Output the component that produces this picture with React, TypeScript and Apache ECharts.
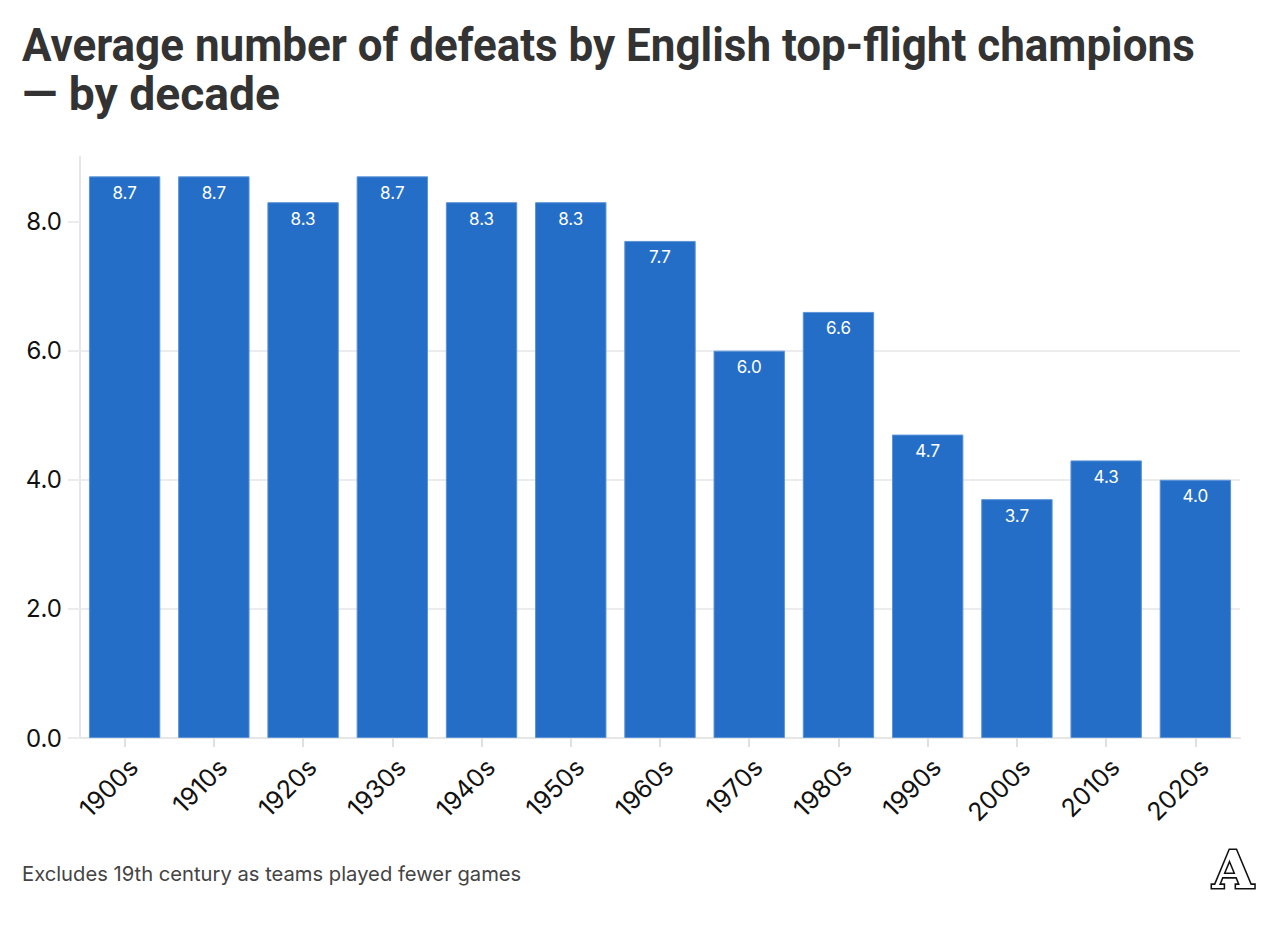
import React, { useEffect, useRef } from "react";
import * as echarts from "echarts";

const decades = ["1900s", "1910s", "1920s", "1930s", "1940s", "1950s", "1960s", "1970s", "1980s", "1990s", "2000s", "2010s", "2020s"];
const avgDefeats = [8.7, 8.7, 8.3, 8.7, 8.3, 8.3, 7.7, 6.0, 6.6, 4.7, 3.7, 4.3, 4.0];
const yTickValues = [0, 2, 4, 6, 8];
const titleLines = ["Average number of defeats by English top-flight champions", "— by decade"];
const footnote = "Excludes 19th century as teams played fewer games";

const TITLE_FONT = "Roboto, 'Liberation Sans', sans-serif";
const BODY_FONT = "Inter, Roboto, 'Noto Sans', sans-serif";

export default function App() {
  const ref = useRef<HTMLDivElement>(null);
  useEffect(() => {
    if (!ref.current) return;
    const titleFont = `bold 46px ${TITLE_FONT}`;
    let scale1 = 0.82;
    let scale2 = 0.86;
    try {
      const ctx = document.createElement("canvas").getContext("2d");
      if (ctx) {
        ctx.font = titleFont;
        const w1 = ctx.measureText(titleLines[0]).width;
        const w2 = ctx.measureText(titleLines[1]).width;
        if (w1 > 0) scale1 = 1173 / w1;
        if (w2 > 0) scale2 = 258 / w2;
      }
    } catch (e) {}
    const chart = echarts.init(ref.current, undefined, { renderer: "svg" });
    chart.setOption({
      animation: false,
      backgroundColor: "#ffffff",
      grid: { left: 80, right: 40, top: 157, bottom: 188, containLabel: false },
      graphic: [
        {
          type: "text",
          x: 22,
          y: 22,
          scaleX: scale1,
          scaleY: 1,
          style: { text: titleLines[0], font: titleFont, fill: "#333333" },
        },
        {
          type: "text",
          x: 22,
          y: 71,
          scaleX: scale2,
          scaleY: 1,
          style: { text: titleLines[1], font: titleFont, fill: "#333333" },
        },
        {
          type: "text",
          left: 22,
          top: 863,
          style: { text: footnote, font: `20.2px ${BODY_FONT}`, fill: "#444444" },
        },
        {
          type: "text",
          left: 1211,
          top: 841,
          style: {
            text: "A",
            font: `bold 53px 'DejaVu Serif', 'Liberation Serif', serif`,
            fill: "#ffffff",
            stroke: "#111111",
            lineWidth: 3.2,
          },
        },
      ],
      xAxis: {
        type: "category",
        data: decades,
        axisLine: { show: true, lineStyle: { color: "#e6e6e6", width: 2 } },
        axisTick: { show: true, alignWithLabel: true, length: 9, lineStyle: { color: "#e0e0e0", width: 2 } },
        axisLabel: {
          rotate: 45,
          color: "#111111",
          fontSize: 25,
          fontFamily: BODY_FONT,
          margin: 16,
          verticalAlign: "top",
        },
      },
      yAxis: {
        type: "value",
        min: 0,
        max: 9,
        interval: 2,
        axisLine: { show: true, lineStyle: { color: "#e6e6e6", width: 2 } },
        axisTick: {
          show: true,
          customValues: yTickValues,
          length: 12,
          lineStyle: { color: "#ececec", width: 2 },
        },
        splitLine: {
          show: true,
          showMaxLine: false,
          lineStyle: { color: "#ececec", width: 2 },
        },
        axisLabel: {
          customValues: yTickValues,
          color: "#111111",
          fontSize: 24,
          fontFamily: BODY_FONT,
          margin: 18,
          formatter: (v: number) => v.toFixed(1),
        },
      },
      series: [
        {
          type: "bar",
          data: avgDefeats,
          barCategoryGap: "20%",
          itemStyle: { color: "#246ec8", borderColor: "#5a93d8", borderWidth: 1 },
          label: {
            show: true,
            position: "insideTop",
            distance: 8,
            color: "#ffffff",
            fontSize: 17,
            fontFamily: BODY_FONT,
            formatter: (p: any) => Number(p.value).toFixed(1),
          },
        },
      ],
    });
    return () => chart.dispose();
  }, []);
  return <div ref={ref} style={{ width: 1280, height: 926, position: "absolute", left: 0, top: 0 }} />;
}
